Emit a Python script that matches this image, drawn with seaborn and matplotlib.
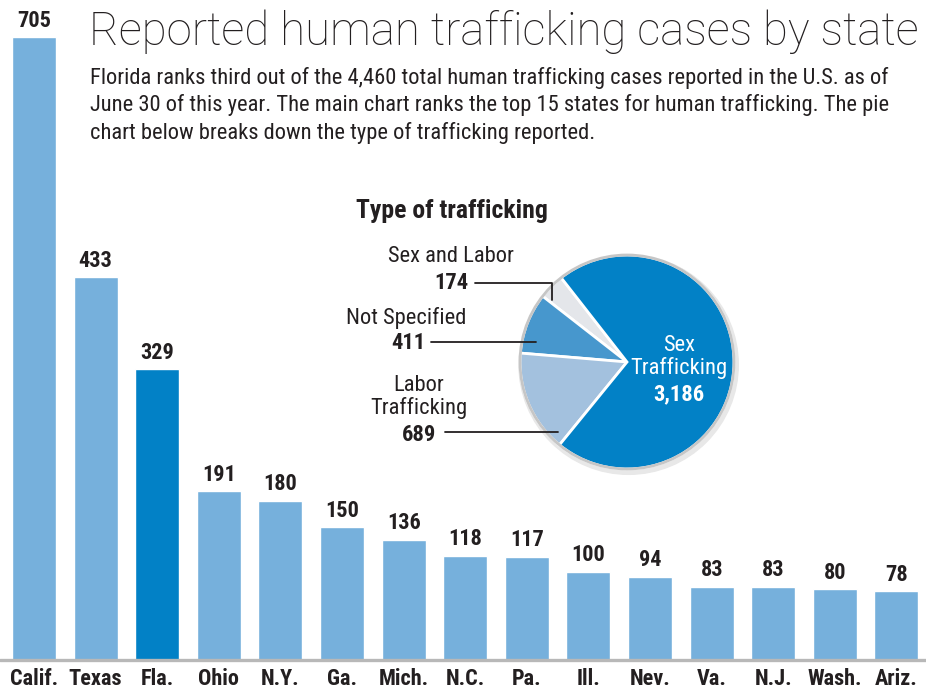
import matplotlib
matplotlib.use('Agg')
import matplotlib.pyplot as plt
import seaborn as sns
import pandas as pd
from matplotlib.patches import Circle

# bar chart data
states = ['Calif.', 'Texas', 'Fla.', 'Ohio', 'N.Y.', 'Ga.', 'Mich.', 'N.C.',
          'Pa.', 'Ill.', 'Nev.', 'Va.', 'N.J.', 'Wash.', 'Ariz.']
cases = [705, 433, 329, 191, 180, 150, 136, 118, 117, 100, 94, 83, 83, 80, 78]
highlight = 'Fla.'

# pie data (drawn counter-clockwise from the small wedge)
pie_types = ['Sex and Labor', 'Not Specified', 'Labor Trafficking', 'Sex Trafficking']
pie_cases = [174, 411, 689, 3186]
pie_colors = ['#e4e6ea', '#4797cd', '#a3c1de', '#0281c6']

title = 'Reported human trafficking cases by state'
subtitle = ['Florida ranks third out of the 4,460 total human trafficking cases reported in the U.S. as of',
            'June 30 of this year. The main chart ranks the top 15 states for human trafficking. The pie',
            'chart below breaks down the type of trafficking reported.']

BAR = '#76b0dc'
DARK = '#0281c6'
INK = '#231f20'

sns.set_style('white')
plt.rcParams['font.family'] = ['Roboto Condensed', 'Barlow Semi Condensed', 'DejaVu Sans']

W, H = 926, 692
fig = plt.figure(figsize=(W / 100, H / 100), dpi=100)


def fx(px):
    return px / W


def fy(py):
    return 1 - py / H


# ---- main bars ----
ax = fig.add_axes([0, 32 / H, 1, 660 / H])
df = pd.DataFrame({'state': states, 'cases': cases})
palette = {s: (DARK if s == highlight else BAR) for s in states}
sns.barplot(data=df, x='state', y='cases', hue='state', palette=palette,
            legend=False, width=0.714, saturation=1, ax=ax)
ax.set_xlim(-0.552, 14.479)
ax.set_ylim(0, 747)
sns.despine(ax=ax, left=True, bottom=True)
ax.axhline(0, color='#b8b8b8', lw=2.4, clip_on=False, zorder=3)
ax.set_xlabel('')
ax.set_ylabel('')
ax.set_yticks([])
ax.set_xticks(range(len(states)))
ax.set_xticklabels(states, fontweight='bold', fontsize=16, color=INK)
ax.tick_params(axis='x', length=0, pad=6)
for c in ax.containers:
    ax.bar_label(c, padding=4, fontweight='bold', fontsize=16, color=INK)

# ---- headline ----
fig.text(fx(89), fy(32), title, fontsize=32.8, family=['Roboto', 'DejaVu Sans'],
         fontweight='light', color=INK, va='center', ha='left')
for i, line in enumerate(subtitle):
    fig.text(fx(90), fy(78 + 27.5 * i), line, fontsize=16.2, color=INK,
             va='center', ha='left')

# ---- pie ----
cx, cy, r = 627, 362, 107
pax = fig.add_axes([fx(cx - r), (H - cy - r) / H, 2 * r / W, 2 * r / H])
pax.add_patch(Circle((0.015, -0.025), 1.025, color='#e8e8e8', zorder=0, clip_on=False))
pax.pie(pie_cases, colors=pie_colors, startangle=128, counterclock=True,
        radius=1, wedgeprops=dict(edgecolor='white', linewidth=2))
pax.add_patch(Circle((0, 0), 1.0, fill=False, edgecolor='#c6c6c6', lw=2, clip_on=False))
pax.set_xlim(-1, 1)
pax.set_ylim(-1, 1)
pax.set_aspect('auto')


def dx(px):
    return (px - cx) / r


def dy(py):
    return (cy - py) / r


line_kw = dict(color=INK, lw=1.3, clip_on=False)
pax.plot([dx(475), dx(552), dx(552)], [dy(283), dy(283), dy(300)], **line_kw)
pax.plot([dx(431), dx(536)], [dy(342), dy(342)], **line_kw)
pax.plot([dx(445), dx(558)], [dy(432), dy(432)], **line_kw)

fig.text(fx(452), fy(211), 'Type of trafficking', fontsize=18.5, fontweight='bold',
         color=INK, ha='center', va='center')
fig.text(fx(514), fy(257), 'Sex and Labor', fontsize=16.2, color=INK, ha='right', va='center')
fig.text(fx(468), fy(283), f'{pie_cases[0]:,}', fontsize=16.2, fontweight='bold',
         color=INK, ha='right', va='center')
fig.text(fx(466), fy(318), 'Not Specified', fontsize=16.2, color=INK, ha='right', va='center')
fig.text(fx(425), fy(343), f'{pie_cases[1]:,}', fontsize=16.2, fontweight='bold',
         color=INK, ha='right', va='center')
fig.text(fx(419), fy(397), 'Labor\nTrafficking', fontsize=16.2, color=INK, ha='center',
         va='center', linespacing=1.1)
fig.text(fx(419), fy(435), f'{pie_cases[2]:,}', fontsize=16.2, fontweight='bold',
         color=INK, ha='center', va='center')
fig.text(fx(679), fy(357), 'Sex\nTrafficking', fontsize=16.2, color='white', ha='center',
         va='center', linespacing=1.1)
fig.text(fx(679), fy(394), f'{pie_cases[3]:,}', fontsize=16.2, fontweight='bold',
         color='white', ha='center', va='center')

fig.savefig('out.png', dpi=100)
